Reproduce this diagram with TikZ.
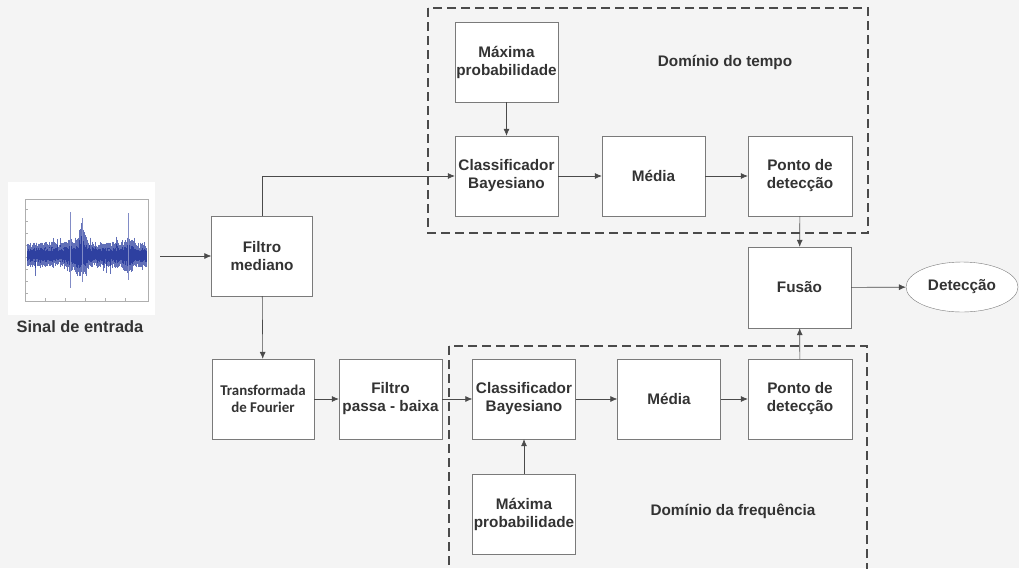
\documentclass[tikz,border=0pt]{standalone}
\usepackage{fontspec}
\setmainfont{Liberation Sans}
\newfontfamily\calibri{Carlito}
\usepackage{xcolor}
\usepackage{tikz}
\usetikzlibrary{arrows,arrows.meta,shapes.geometric}

\definecolor{fundo}{HTML}{F4F4F4}
\definecolor{texto}{HTML}{333333}
\definecolor{borda}{HTML}{7A7A7A}
\definecolor{linha}{HTML}{4A4A4A}
\definecolor{sinal}{HTML}{2E40A0}

\begin{document}
\begin{tikzpicture}[x=1pt,y=-1pt,->,>={Latex[length=7pt,width=6pt]},semithick,draw=linha]
  \tikzstyle{bloco}=[draw=borda,fill=white,thin,inner sep=1pt,minimum width=103,minimum height=80,align=center,text=texto,font=\bfseries\fontsize{15.3}{18}\selectfont]
  \tikzstyle{dominio}=[-,draw=linha,line width=1.4pt,dash pattern=on 9pt off 5pt]
  \tikzstyle{rotulo}=[text=texto,font=\bfseries\fontsize{15.3}{18}\selectfont]

  \useasboundingbox (0,0) rectangle (1019,568);
  \clip (0,0) rectangle (1019,568);
  \fill[fundo,-] (0,0) rectangle (1019,568);

  % sinal de entrada
  \node[fill=white,minimum width=147,minimum height=133,inner sep=0] (sinal) at (81.5,248.5) {};
  \draw[-,draw=borda!60,thin] (25,199) rectangle (148,301);
  \foreach \t in {209,221,233,245,257,269,281,293}
    \draw[-,draw=borda!60,thin] (25,\t) -- (28,\t);
  \foreach \t in {45,65,85,105,125}
    \draw[-,draw=borda!60,thin] (\t,301) -- (\t,298);
  \pgfmathsetseed{11}
  \foreach \i in {0,...,290}{
    \pgfmathsetmacro{\xx}{27+\i*0.41}
    \pgfmathsetmacro{\bump}{1+1.3*max(0,1-abs(\xx-82)/9)+0.5*max(0,1-abs(\xx-128)/8)+0.4*max(0,1-abs(\xx-70)/6)}
    \pgfmathsetmacro{\aa}{(6+7*rnd)*\bump+(rnd>0.95)*10*rnd}
    \pgfmathsetmacro{\bb}{(6+7*rnd)*\bump+(rnd>0.96)*9*rnd}
    \draw[-,draw=sinal!75,line width=0.45pt] (\xx,255-\aa) -- (\xx,255+\bb);
    \draw[-,draw=sinal,line width=0.5pt] (\xx,255-0.6*\aa) -- (\xx,255+0.6*\bb);
  }
  \draw[-,draw=sinal!60,line width=0.5pt] (82,218) -- (82,282) (70,212) -- (70,288) (128,213) -- (128,280);
  \node[rotulo,font=\bfseries\fontsize{16.4}{19}\selectfont] (entrada) at (80,327) {Sinal de entrada};

  % dominios
  \draw[dominio] (428,8) rectangle (868,233);
  \draw[dominio] (449,346) rectangle (867,600);
  \node[rotulo] (tempo) at (725,62) {Domínio do tempo};
  \node[rotulo] (freq) at (733,511) {Domínio da frequência};

  % blocos
  \node[bloco,minimum width=101] (mediano) at (262,256) {Filtro\\mediano};
  \node[bloco,minimum width=102,font=\calibri\bfseries\fontsize{14.9}{17.5}\selectfont] (fourier) at (263,399) {Transformada\\de Fourier};
  \node[bloco] (passa) at (390.5,399) {Filtro\\passa - baixa};

  \node[bloco] (maxT) at (506.5,62) {Máxima\\probabilidade};
  \node[bloco] (classT) at (506.5,176) {Classificador\\Bayesiano};
  \node[bloco] (mediaT) at (653.5,176) {Média};
  \node[bloco,minimum width=104] (pontoT) at (800,176) {Ponto de\\detecção};

  \node[bloco] (classB) at (524,399) {Classificador\\Bayesiano};
  \node[bloco] (mediaB) at (669,399) {Média};
  \node[bloco,minimum width=104] (pontoB) at (800,399) {Ponto de\\detecção};
  \node[bloco] (maxB) at (524,514) {Máxima\\probabilidade};

  \node[bloco,minimum width=103,minimum height=81] (fusao) at (799.5,287.5) {Fusão};
  \node[draw=borda,fill=white,thin,ellipse,minimum width=112,minimum height=50,text=texto,font=\bfseries\fontsize{15.3}{18}\selectfont] (deteccao) at (962,287) {Detecção};

  % ligacoes
  \draw ([xshift=5]sinal.east |- mediano.west) -- (mediano.west);
  \draw (mediano.north) |- (classT.west);
  \path (mediano)  edge (fourier)
        (fourier)  edge (passa)
        (passa)    edge (classB)
        (maxT)     edge (classT)
        (classT)   edge (mediaT)
        (mediaT)   edge (pontoT)
        (pontoT)   edge (fusao)
        (maxB)     edge (classB)
        (classB)   edge (mediaB)
        (mediaB)   edge (pontoB)
        (pontoB)   edge (fusao)
        (fusao)    edge (deteccao);

\end{tikzpicture}
\end{document}
